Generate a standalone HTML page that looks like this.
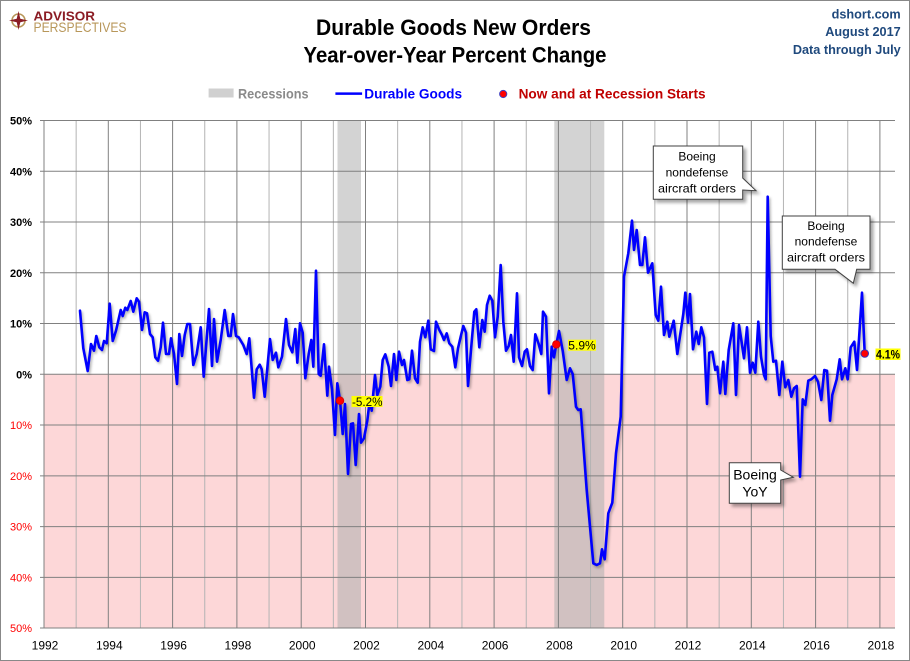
<!DOCTYPE html>
<html><head><meta charset="utf-8"><style>
html,body{margin:0;padding:0;background:#fff}
svg{display:block;font-family:"Liberation Sans",Arial,sans-serif}
</style></head><body>
<svg width="910" height="661" viewBox="0 0 910 661" xmlns="http://www.w3.org/2000/svg">
<defs>
<filter id="sh" x="-20%" y="-20%" width="140%" height="140%"><feGaussianBlur stdDeviation="1.2"/></filter>
<filter id="bs" x="-20%" y="-20%" width="150%" height="150%"><feDropShadow dx="3" dy="3" stdDeviation="1.5" flood-color="#000" flood-opacity="0.35"/></filter>
</defs>
<rect x="0.5" y="0.5" width="909" height="660" fill="#fff" stroke="#888" stroke-width="1"/>

<!-- logo -->
<circle cx="18.5" cy="20.5" r="6.5" fill="none" stroke="#b8975a" stroke-width="1.6"/>
<polygon points="18.5,11 20.3,18.7 28,20.5 20.3,22.3 18.5,30 16.7,22.3 9,20.5 16.7,18.7" fill="#8b1c24"/>
<text x="33.5" y="20.5" font-size="12.5" font-weight="bold" fill="#8b1c24" textLength="61.5" lengthAdjust="spacingAndGlyphs">ADVISOR</text>
<text x="33.5" y="31.8" font-size="13.5" fill="#b8975a" textLength="93" lengthAdjust="spacingAndGlyphs">PERSPECTIVES</text>

<!-- title -->
<text x="453.5" y="35" font-size="22" font-weight="bold" text-anchor="middle" textLength="275" lengthAdjust="spacingAndGlyphs">Durable Goods New Orders</text>
<text x="455" y="62.7" font-size="22" font-weight="bold" text-anchor="middle" textLength="303" lengthAdjust="spacingAndGlyphs">Year-over-Year Percent Change</text>

<g font-size="12.7" font-weight="bold" fill="#1f497d" text-anchor="end">
<text x="900.7" y="18.3">dshort.com</text>
<text x="900.7" y="36">August 2017</text>
<text x="900.7" y="54">Data through July</text>
</g>

<!-- legend -->
<rect x="208.6" y="88.5" width="25" height="9" fill="#d0d0d0"/>
<text x="238" y="98.3" font-size="14" font-weight="bold" fill="#8a8a8a" textLength="70.5" lengthAdjust="spacingAndGlyphs">Recessions</text>
<line x1="335.4" y1="93.6" x2="362.1" y2="93.6" stroke="#0000ff" stroke-width="2.5"/>
<text x="364.3" y="98.3" font-size="14" font-weight="bold" fill="#0000ff" textLength="97.8" lengthAdjust="spacingAndGlyphs">Durable Goods</text>
<circle cx="503.2" cy="94" r="3.6" fill="#ff0000" stroke="#4040c0" stroke-width="1"/>
<text x="518.6" y="98.3" font-size="14" font-weight="bold" fill="#c00000" textLength="187" lengthAdjust="spacingAndGlyphs">Now and at Recession Starts</text>

<!-- plot background -->
<rect x="44" y="374.3" width="851" height="253.7" fill="#fdd7d8"/>
<rect x="337.5" y="120.5" width="23.5" height="253.8" fill="#d3d3d3"/>
<rect x="337.5" y="374.3" width="23.5" height="253.7" fill="#d1c1c1"/>
<rect x="554.3" y="120.5" width="50" height="253.8" fill="#d3d3d3"/>
<rect x="554.3" y="374.3" width="50" height="253.7" fill="#d1c1c1"/>

<!-- vertical grid -->
<g stroke-width="1">
<line x1="76.15" y1="120.5" x2="76.15" y2="628" stroke="#b4b4b4"/>
<line x1="140.45" y1="120.5" x2="140.45" y2="628" stroke="#b4b4b4"/>
<line x1="204.75" y1="120.5" x2="204.75" y2="628" stroke="#b4b4b4"/>
<line x1="269.05" y1="120.5" x2="269.05" y2="628" stroke="#b4b4b4"/>
<line x1="333.35" y1="120.5" x2="333.35" y2="628" stroke="#b4b4b4"/>
<line x1="397.65" y1="120.5" x2="397.65" y2="628" stroke="#b4b4b4"/>
<line x1="461.95" y1="120.5" x2="461.95" y2="628" stroke="#b4b4b4"/>
<line x1="526.25" y1="120.5" x2="526.25" y2="628" stroke="#b4b4b4"/>
<line x1="590.55" y1="120.5" x2="590.55" y2="628" stroke="#b4b4b4"/>
<line x1="654.85" y1="120.5" x2="654.85" y2="628" stroke="#b4b4b4"/>
<line x1="719.15" y1="120.5" x2="719.15" y2="628" stroke="#b4b4b4"/>
<line x1="783.45" y1="120.5" x2="783.45" y2="628" stroke="#b4b4b4"/>
<line x1="847.75" y1="120.5" x2="847.75" y2="628" stroke="#b4b4b4"/>
<line x1="44" y1="120.5" x2="44" y2="628" stroke="#808080"/>
<line x1="108.3" y1="120.5" x2="108.3" y2="628" stroke="#808080"/>
<line x1="172.6" y1="120.5" x2="172.6" y2="628" stroke="#808080"/>
<line x1="236.9" y1="120.5" x2="236.9" y2="628" stroke="#808080"/>
<line x1="301.2" y1="120.5" x2="301.2" y2="628" stroke="#808080"/>
<line x1="365.5" y1="120.5" x2="365.5" y2="628" stroke="#808080"/>
<line x1="429.8" y1="120.5" x2="429.8" y2="628" stroke="#808080"/>
<line x1="494.1" y1="120.5" x2="494.1" y2="628" stroke="#808080"/>
<line x1="558.4" y1="120.5" x2="558.4" y2="628" stroke="#808080"/>
<line x1="622.7" y1="120.5" x2="622.7" y2="628" stroke="#808080"/>
<line x1="687" y1="120.5" x2="687" y2="628" stroke="#808080"/>
<line x1="751.3" y1="120.5" x2="751.3" y2="628" stroke="#808080"/>
<line x1="815.6" y1="120.5" x2="815.6" y2="628" stroke="#808080"/>
<line x1="879.9" y1="120.5" x2="879.9" y2="628" stroke="#808080"/>
</g>
<!-- horizontal grid -->
<g stroke="#808080" stroke-width="1">
<line x1="40" y1="120.5" x2="895" y2="120.5"/>
<line x1="40" y1="171.26" x2="895" y2="171.26"/>
<line x1="40" y1="222.02" x2="895" y2="222.02"/>
<line x1="40" y1="272.78" x2="895" y2="272.78"/>
<line x1="40" y1="323.54" x2="895" y2="323.54"/>
<line x1="40" y1="374.3" x2="895" y2="374.3"/>
<line x1="40" y1="425.06" x2="895" y2="425.06"/>
<line x1="40" y1="475.82" x2="895" y2="475.82"/>
<line x1="40" y1="526.58" x2="895" y2="526.58"/>
<line x1="40" y1="577.34" x2="895" y2="577.34"/>
<line x1="40" y1="628" x2="895" y2="628"/>
</g>

<!-- y labels -->
<g font-size="11" text-anchor="end">
<text x="32" y="124.5" font-weight="bold">50%</text>
<text x="32" y="175.3" font-weight="bold">40%</text>
<text x="32" y="226" font-weight="bold">30%</text>
<text x="32" y="276.8" font-weight="bold">20%</text>
<text x="32" y="327.5" font-weight="bold">10%</text>
<text x="32" y="378.3" font-weight="bold">0%</text>
<text x="32" y="429" fill="#ff0000">10%</text>
<text x="32" y="479.8" fill="#ff0000">20%</text>
<text x="32" y="530.6" fill="#ff0000">30%</text>
<text x="32" y="581.3" fill="#ff0000">40%</text>
<text x="32" y="632" fill="#ff0000">50%</text>
</g>
<!-- x labels -->
<g font-size="12" text-anchor="middle">
<text x="45" y="649.3">1992</text>
<text x="109.3" y="649.3">1994</text>
<text x="173.6" y="649.3">1996</text>
<text x="237.9" y="649.3">1998</text>
<text x="302.2" y="649.3">2000</text>
<text x="366.5" y="649.3">2002</text>
<text x="430.8" y="649.3">2004</text>
<text x="495.1" y="649.3">2006</text>
<text x="559.4" y="649.3">2008</text>
<text x="623.7" y="649.3">2010</text>
<text x="688" y="649.3">2012</text>
<text x="752.3" y="649.3">2014</text>
<text x="816.6" y="649.3">2016</text>
<text x="880.9" y="649.3">2018</text>
</g>

<!-- series -->
<g id="ser">
<polyline id="pl" fill="none" stroke-linejoin="round" stroke-linecap="round" points="80,310.7 83.3,348.3 87.7,371 91,344 94,350.7 96.3,336 99.3,347.3 102,350 104,341 106.7,343.3 109.7,303.7 112.7,341 116,330.7 120.7,310 122.7,316 125.3,307.7 127.3,310 130.7,301 133.3,311.7 136.7,298.3 139,301.7 142,330 144.7,312.3 147,313.3 150,334 152.7,337.3 155.3,357.3 158,360.7 160.7,347.3 163,322.7 166,354 169,354 171,338.3 174,354 177,384 179.3,334 182,356 184.7,335 187.3,324 190,324 193.3,365 196.7,354 200.7,327.3 203.7,376.7 209,309 212,366 214,319 217,361.7 220.7,340 224.7,310 228.3,336 230.7,336 233,314 236,336 238.7,337.3 243.3,345 246.7,354 249.3,338.3 254,397.7 256.7,369.3 259.7,364.7 261.7,369.3 264.7,396.7 270,339 272.7,360 276,352.7 278.3,367.3 282,356.7 286,319 289,345 292.3,352.3 295.3,329 297.3,362.7 300,323.3 302.7,332.7 305.3,378.3 308.7,354 311.3,340 313.3,366.7 316,270.7 318.7,374 320.7,375.7 324,344.3 327.3,395.7 329,366.7 332,389.3 335,435 337.3,383.3 340,400 342.7,434 345,404 348,474 351,424 353,423.3 355.7,465 359,414 361,442.7 364,438.3 367.3,420.7 370,398.3 371.7,410.7 375,375 377.3,395 380.3,386.7 382.7,360 385.3,354.3 388.7,366.7 391,386 394,354 396.3,380 399,351.7 402,365 404,360 407.3,380 409.3,379.3 412,350.7 415,378.3 417.7,382.7 420,341.7 422.7,327.3 425.3,337.3 428.3,320.7 430.7,349.3 434,351 436,321.7 439,329.3 442,335 444,340 446.7,333.3 449.3,343.3 452.3,346.7 455.3,367.3 458,348.3 460.7,336.7 463.3,326 466,332.7 468,386 471.7,341.7 474.3,311.7 476.3,309.3 479.3,347.3 482.3,320 484.7,331.7 487,305 489.7,295.7 492.3,300.7 495,337.3 497.7,316.7 500.7,265 503.3,321.7 506,350.7 508.7,346 511,335 513.7,361.7 517,293.3 519,357.3 522,366 524.7,351.7 527,349.3 530,366 532.7,370 535.3,334.3 538.7,344 541.3,354 543,311.7 546,316.7 549,393.3 551.7,346.7 554,357.3 556.3,344.3 559,331 562.7,350.7 566.7,380 570,368.3 572.7,374 576,406.7 578.3,410 580.7,409.3 586.7,490 593.3,563.3 596.7,565 600,563.3 602,549.3 604.7,559.3 608.3,513.3 612.3,502.7 616,453.3 620.7,416.7 624,276.7 628.3,253.3 632,220.7 634,250 636.7,230 640,265 642.3,265 645,237.3 648,272.7 652.3,263.3 655.7,315 658.3,320.7 661,286.7 664,335 667.3,321.7 669.3,336.7 673.7,320.7 677.3,354 683.3,314 685.3,292.7 688,322.7 690,294 693,349.3 696.3,331.7 698.7,344 701.3,327.3 704,337.3 707,404 709.3,352.7 712.3,351.7 715.3,370 717.3,366.7 720,393.3 723.3,361.7 725.3,394 728.7,350 733.3,323.3 736,395 739,325 741.3,340 744,358.3 747,327.3 750,372.7 752.7,362.7 755.3,372.7 758.3,321.7 761,356.7 764,375 765.7,379.3 767.7,196.7 770.7,336 773.3,361.7 776,360.7 779.3,395 782.3,361.7 785.3,387.3 788.3,380 791.3,396.7 794,388.3 796.7,386 800,476.7 802.7,399.3 805.3,405 808.3,380.7 811.3,379.3 815,376 818,381.7 821.3,400 824.3,370 827,370.7 830,420.7 832.3,395 836.7,379.3 839.7,359.3 842,379.3 845.3,368.3 847.7,379.3 850.7,347.3 854.3,341.7 857,370 862,292.7 864.7,353.3"/>
</g>
<use href="#pl" transform="translate(1.5,2)" stroke="#000" stroke-opacity="0.3" stroke-width="2.5" filter="url(#sh)"/>
<use href="#pl" stroke="#0000ff" stroke-width="2.6"/>

<!-- markers and labels -->
<circle cx="340" cy="400.7" r="3.8" fill="#ff0000" stroke="#d00000" stroke-width="0.8"/>
<circle cx="556.3" cy="344.4" r="3.8" fill="#ff0000" stroke="#d00000" stroke-width="0.8"/>
<circle cx="864.7" cy="353.5" r="3.8" fill="#ff0000" stroke="#3030c0" stroke-width="1"/>
<rect x="351.5" y="396" width="31" height="11" fill="#ffff00"/>
<text x="352" y="405.8" font-size="12" textLength="30.5" lengthAdjust="spacingAndGlyphs">-5.2%</text>
<rect x="568" y="339.7" width="28" height="11" fill="#ffff00"/>
<text x="568.3" y="349.5" font-size="12" textLength="27.4" lengthAdjust="spacingAndGlyphs">5.9%</text>
<rect x="875.5" y="348.5" width="25" height="11.5" fill="#ffff00"/>
<text x="876" y="358.3" font-size="11.5" font-weight="bold" textLength="24" lengthAdjust="spacingAndGlyphs">4.1%</text>

<!-- callouts -->
<g filter="url(#bs)">
<path d="M653.3,146 H742.7 V178 L756,190.7 L742.7,190 V199.3 H653.3 Z" fill="#fff" stroke="#404040" stroke-width="1"/>
<path d="M782.3,216 H870 V269.3 H856.7 L853.3,283.3 L835,269.3 H782.3 Z" fill="#fff" stroke="#404040" stroke-width="1"/>
<path d="M729.3,462.7 H780.7 V470 L793.3,477.3 L780.7,480 V503.3 H729.3 Z" fill="#fff" stroke="#404040" stroke-width="1"/>
</g>
<g font-size="12" text-anchor="middle" fill="#000">
<text x="697" y="160.7">Boeing</text>
<text x="697" y="176.5">nondefense</text>
<text x="697" y="192.3" textLength="78" lengthAdjust="spacingAndGlyphs">aircraft orders</text>
<text x="826" y="230">Boeing</text>
<text x="826" y="245.7">nondefense</text>
<text x="826" y="261.3" textLength="78" lengthAdjust="spacingAndGlyphs">aircraft orders</text>
</g>
<g font-size="14" text-anchor="middle">
<text x="755" y="479.3">Boeing</text>
<text x="755" y="496.5">YoY</text>
</g>
</svg>
</body></html>
